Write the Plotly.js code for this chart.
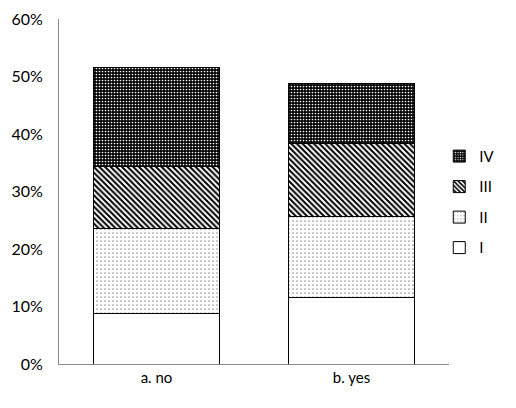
<!DOCTYPE html>
<html><head><meta charset="utf-8">
<script src="https://cdn.plot.ly/plotly-3.0.1.min.js"></script>
<style>html,body{margin:0;padding:0;background:#fff;}</style>
</head><body>
<div id="chart" style="width:516px;height:408px;"></div>
<script>
const categories = ["a. no", "b. yes"];
const seriesNames = ["I", "II", "III", "IV"];
const valI = [0.087, 0.115];
const valII = [0.148, 0.141];
const valIII = [0.108, 0.128];
const valIV = [0.172, 0.103];
const yTicks = [0, 0.1, 0.2, 0.3, 0.4, 0.5, 0.6];

const patterns = [
  {shape: "", bgcolor: "#ffffff", fgcolor: "#000000"},
  {shape: ".", bgcolor: "#ffffff", fgcolor: "#000000", size: 4, solidity: 0.06},
  {shape: "\\", bgcolor: "#ffffff", fgcolor: "#000000", size: 4, solidity: 0.5},
  {shape: ".", bgcolor: "#000000", fgcolor: "#ffffff", size: 3, solidity: 0.25}
];
const vals = [valI, valII, valIII, valIV];

const traces = vals.map((v, i) => ({
  type: "bar",
  name: seriesNames[i],
  x: categories,
  y: v,
  legendgroup: "g" + i,
  legendrank: 10 - i,
  marker: {
    color: "#ffffff",
    line: {color: "#000000", width: 1},
    pattern: patterns[i]
  },
  hoverinfo: "skip"
}));

const layout = {
  width: 516, height: 408,
  margin: {l: 59, r: 67, t: 19, b: 44, pad: 0},
  paper_bgcolor: "#ffffff",
  plot_bgcolor: "#ffffff",
  barmode: "stack",
  bargap: 0.354,
  font: {family: "Lato, 'Open Sans', sans-serif", size: 16, color: "#000000"},
  xaxis: {
    showline: true, linecolor: "#888888", linewidth: 1,
    ticks: "", showgrid: false, zeroline: false,
    tickfont: {size: 15, color: "#000000"}
  },
  yaxis: {
    range: [0, 0.6], tickvals: yTicks, tickformat: ".0%",
    showline: true, linecolor: "#888888", linewidth: 1,
    showgrid: false, zeroline: false,
    ticks: "outside", ticklen: 12, tickcolor: "rgba(0,0,0,0)",
    tickfont: {size: 16, color: "#000000"}
  },
  showlegend: true,
  legend: {
    x: 0.975, xanchor: "left", y: 0.47, yanchor: "middle",
    traceorder: "grouped", tracegroupgap: 8,
    font: {size: 15, color: "#000000"},
    bgcolor: "rgba(0,0,0,0)", itemwidth: 30
  }
};

Plotly.newPlot("chart", traces, layout, {displayModeBar: false, staticPlot: true});
</script>
</body></html>
